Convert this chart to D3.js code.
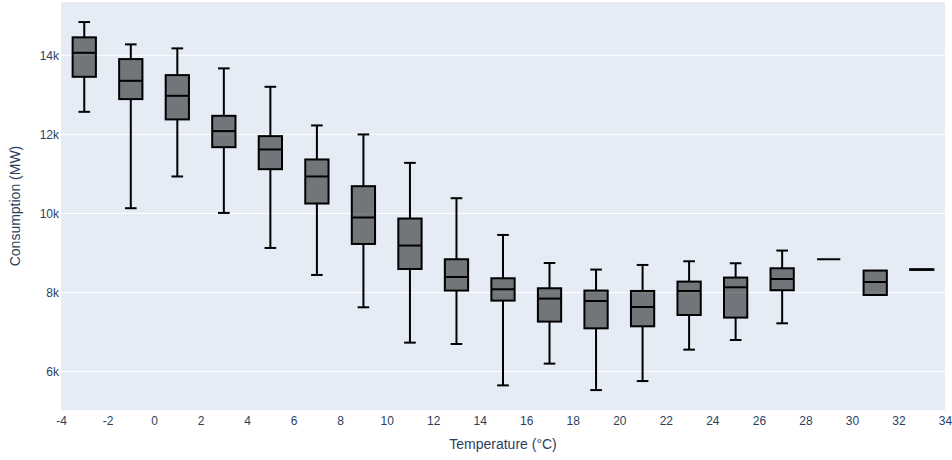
<!DOCTYPE html>
<html lang="en">
<head>
    <meta charset="UTF-8">
    <title>Consumption vs Temperature</title>
    <script src="https://d3js.org/d3.v7.min.js"></script>
    <style>
        body { margin: 0; background: #fff; font-family: "Liberation Sans", Arial, sans-serif; }
        .tick text { fill: #2a3f5f; font-size: 12px; }
        .axis-title { fill: #2a3f5f; font-size: 14px; }
    </style>
</head>
<body>
    <div id="chart"></div>
    <script>
        // temperature bin centres (°C)
        const temps = [-3, -1, 1, 3, 5, 7, 9, 11, 13, 15, 17, 19, 21, 23, 25, 27, 29, 31, 33];
        // box statistics, MW
        const lowerFence = [12572, 10134, 10937, 10015, 9129, 8446, 7628, 6734, 6699, 5653, 6203, 5534, 5762, 6557, 6800, 7223, 8843, 7939, 8575];
        const q1 = [13458, 12894, 12380, 11678, 11121, 10253, 9230, 8597, 8051, 7797, 7266, 7096, 7147, 7433, 7367, 8059, 8843, 7939, 8575];
        const median = [14066, 13357, 12977, 12084, 11620, 10937, 9899, 9190, 8395, 8084, 7848, 7787, 7636, 8041, 8134, 8344, 8843, 8268, 8582];
        const q3 = [14456, 13906, 13501, 12471, 11957, 11367, 10691, 9873, 8843, 8362, 8109, 8051, 8041, 8278, 8380, 8615, 8843, 8557, 8590];
        const upperFence = [14843, 14278, 14177, 13671, 13205, 12228, 12000, 11281, 10387, 9458, 8749, 8582, 8699, 8792, 8742, 9063, 8843, 8557, 8590];
        const xTicks = d3.range(-4, 35, 2);
        const yTicks = [6000, 8000, 10000, 12000, 14000];

        const W = 952, H = 460;
        const margin = { top: 2, right: 7, bottom: 50, left: 61 };
        const width = W - margin.left - margin.right;
        const height = H - margin.top - margin.bottom;

        const data = temps.map((t, i) => ({
            t, lo: lowerFence[i], q1: q1[i], med: median[i], q3: q3[i], hi: upperFence[i]
        }));

        const svg = d3.select("#chart").append("svg")
            .attr("width", W).attr("height", H);

        const g = svg.append("g")
            .attr("transform", `translate(${margin.left},${margin.top})`);

        const x = d3.scaleLinear().domain([-4, 34]).range([0, width]);
        const y = d3.scaleLinear().domain([5030, 15350]).range([height, 0]);

        g.append("rect")
            .attr("width", width).attr("height", height)
            .attr("fill", "#e5ecf6");

        // grid
        g.selectAll(".grid").data(yTicks).enter().append("line")
            .attr("class", "grid")
            .attr("x1", 0).attr("x2", width)
            .attr("y1", d => y(d)).attr("y2", d => y(d))
            .attr("stroke", "#fff").attr("stroke-width", 1);

        // axes (plain hyphen for negatives, like the original)
        const xAxis = g.append("g")
            .attr("transform", `translate(0,${height})`)
            .call(d3.axisBottom(x).tickValues(xTicks).tickSize(0).tickPadding(6).tickFormat(d => String(d)));
        xAxis.select(".domain").remove();

        const yAxis = g.append("g")
            .call(d3.axisLeft(y).tickValues(yTicks).tickSize(0).tickPadding(2).tickFormat(d => d / 1000 + "k"));
        yAxis.select(".domain").remove();

        svg.selectAll(".tick text").style("font-family", "'Liberation Sans', Arial, sans-serif");

        // boxes
        const boxW = x(0.5) - x(0);
        const capW = boxW / 2;
        const boxes = g.selectAll(".box").data(data).enter().append("g")
            .attr("class", "box")
            .attr("transform", d => `translate(${x(d.t)},0)`);

        // whiskers
        boxes.append("line")
            .attr("x1", 0).attr("x2", 0)
            .attr("y1", d => y(d.hi)).attr("y2", d => y(d.q3))
            .attr("stroke", "#000").attr("stroke-width", 2);
        boxes.append("line")
            .attr("x1", 0).attr("x2", 0)
            .attr("y1", d => y(d.q1)).attr("y2", d => y(d.lo))
            .attr("stroke", "#000").attr("stroke-width", 2);
        boxes.filter(d => d.hi > d.q3).append("line")
            .attr("x1", -capW).attr("x2", capW)
            .attr("y1", d => y(d.hi)).attr("y2", d => y(d.hi))
            .attr("stroke", "#000").attr("stroke-width", 2);
        boxes.filter(d => d.lo < d.q1).append("line")
            .attr("x1", -capW).attr("x2", capW)
            .attr("y1", d => y(d.lo)).attr("y2", d => y(d.lo))
            .attr("stroke", "#000").attr("stroke-width", 2);

        boxes.append("rect")
            .attr("x", -boxW).attr("width", boxW * 2)
            .attr("y", d => y(d.q3))
            .attr("height", d => Math.max(0, y(d.q1) - y(d.q3)))
            .attr("fill", "rgba(0,0,0,0.5)")
            .attr("stroke", "#000").attr("stroke-width", 2);

        boxes.append("line")
            .attr("x1", -boxW).attr("x2", boxW)
            .attr("y1", d => y(d.med)).attr("y2", d => y(d.med))
            .attr("stroke", "#000").attr("stroke-width", 2);

        // titles
        svg.append("text")
            .attr("class", "axis-title")
            .attr("x", margin.left + width / 2).attr("y", 449)
            .attr("text-anchor", "middle")
            .text("Temperature (°C)");

        svg.append("text")
            .attr("class", "axis-title")
            .attr("transform", `translate(20,${margin.top + height / 2}) rotate(-90)`)
            .attr("text-anchor", "middle")
            .text("Consumption (MW)");
    </script>
</body>
</html>
